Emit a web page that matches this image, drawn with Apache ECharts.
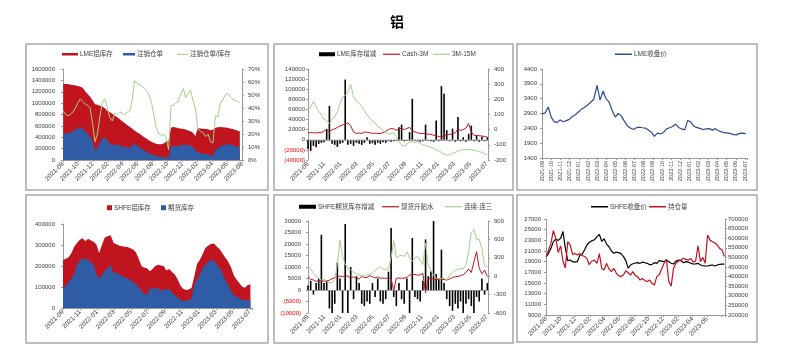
<!DOCTYPE html>
<html><head><meta charset="utf-8">
<script src="https://cdn.jsdelivr.net/npm/echarts@6/dist/echarts.min.js"></script>
<style>html,body{margin:0;padding:0;background:#fff}#c{width:793px;height:356px}</style>
</head><body><div id="c"></div>
<script>
// ---------- tick labels ----------
const p1Ticks = ['2021-08','2021-10','2021-12','2022-02','2022-04','2022-06','2022-08','2022-10','2022-12','2023-02','2023-04','2023-06','2023-08'];
const p2Ticks = ['2021-09','2021-11','2022-01','2022-03','2022-05','2022-07','2022-09','2022-11','2023-01','2023-03','2023-05','2023-07'];
const p3Ticks = ['2021-09','2021-10','2021-11','2021-12','2022-01','2022-02','2022-03','2022-04','2022-05','2022-06','2022-07','2022-08','2022-09','2022-10','2022-11','2022-12','2023-01','2023-02','2023-03','2023-04','2023-05','2023-06','2023-07'];
const p4Ticks = p2Ticks;
const p5Ticks = p2Ticks;
const p6Ticks = ['2021-08','2021-10','2021-12','2022-02','2022-04','2022-06','2022-08','2022-10','2022-12','2023-02','2023-04','2023-06'];

// ---------- sampling (every 10 days) ----------
const p1Start = '2021-08-02', p2Start = '2021-09-01', p3Start = '2021-09-01', p4Start = '2021-09-01', p5Start = '2021-09-01', p6Start = '2021-08-02';
const stepDays = 10;

// ---------- panel 1: LME stock (thousand t), cancelled warrants (thousand t), ratio (%) ----------
const p1LmeStockK = [1340,1338,1335,1325,1320,1310,1300,1290,1270,1210,
  1160,1110,1050,980,970,955,940,915,870,845,
  815,780,750,715,680,650,615,585,555,520,
  490,465,430,400,375,345,320,300,285,275,
  275,290,325,335,570,580,570,560,555,545,
  535,520,505,480,420,560,555,550,545,540,
  525,530,565,575,580,578,572,565,555,545,
  530,515,505];
const p1CancelK = [460,465,475,490,505,530,555,575,555,500,
  460,410,330,150,220,300,380,400,350,300,
  250,280,270,255,240,230,225,220,240,300,
  260,230,200,170,140,120,100,85,70,60,
  55,50,50,30,240,240,240,250,245,280,
  260,265,265,230,170,130,120,115,100,100,
  75,70,190,200,250,255,265,280,275,260,
  245,235,225];
const p1RatioPct = [38,35,34,35,37,40,44,47,45,43,
  42,40,28,14,20,33,44,47,41,33,
  30,36,35,37,36,35,37,37,45,61,
  59,58,57,55,53,50,44,34,25,20,
  19,20,17,8,42,42,44,45,51,55,
  48,51,54,46,40,24,22,21,18,20,
  14,13,34,33,44,46,50,51,49,47,
  46,45,44];

// ---------- panel 2: LME stock change (thousand t), Cash-3M, 3M-15M ----------
const p2ChangeK = [-18,-22,-12,-15,-8,-6,-5,20,67,-8,
  -10,-14,-8,-6,119,-10,-8,-12,-6,-8,
  -10,-6,5,-8,-7,-10,-6,-8,-5,-6,
  -3,-4,-3,-2,25,30,-3,-2,15,81,
  -2,-3,-4,-3,30,-2,-3,-4,38,-3,
  106,91,19,-3,22,-4,45,-3,5,-4,
  12,28,-3,8,-4,6,-3,5];
const p2Cash3M = [-20,-20,-20,-22,-18,-20,-10,5,-15,0,
  5,15,25,30,40,44,25,-15,-25,-22,
  -25,-15,-18,-20,-25,-22,-25,-25,-20,-10,
  0,8,5,-5,5,10,0,8,15,-5,
  -15,-20,-25,-25,-25,-30,-30,-37,-40,-45,
  -48,-45,-37,-30,-28,-20,5,-5,0,10,
  40,-15,-37,-38,-40,-42,-45,-48];
const p2Spread3M15M = [130,150,185,150,120,100,70,58,40,70,
  84,120,170,215,225,250,300,215,190,175,
  150,125,100,75,55,45,20,10,-5,-20,
  -30,-25,-20,-45,-80,-100,-110,-95,-80,-78,
  -85,-80,-90,-100,-105,-110,-115,-125,-135,-140,
  -150,-160,-168,-165,-155,-150,-140,-136,-132,-130,
  -130,-132,-136,-140,-145,-150,-160,-165];

// ---------- panel 3: LME close ----------
const p3LmeClose = [2880,2920,3120,2780,2620,2600,2680,2620,2660,2700,
  2800,2860,2950,3040,3100,3180,3270,3380,3850,3350,
  3650,3400,3280,3000,2780,2900,2820,2650,2490,2410,
  2360,2420,2440,2420,2410,2340,2270,2130,2240,2210,
  2260,2380,2420,2460,2540,2430,2380,2350,2660,2620,
  2480,2430,2400,2360,2380,2390,2340,2390,2320,2280,
  2250,2250,2220,2190,2180,2230,2240,2220];

// ---------- panel 4: SHFE stock, futures stock (thousand t) ----------
const p4ShfeStockK = [228,234,242,262,292,310,325,332,318,330,
  322,316,302,262,300,335,342,346,310,304,
  298,294,292,290,284,278,266,236,200,192,
  189,175,186,200,206,202,200,178,186,172,
  160,138,108,92,86,88,95,150,210,228,
  255,285,296,305,307,292,280,260,240,222,
  195,157,136,120,102,96,108,113];
const p4FuturesStockK = [94,106,125,140,160,205,226,236,234,228,
  218,205,160,142,158,175,190,205,165,172,
  160,152,148,140,134,124,114,100,82,68,
  62,98,90,96,95,80,92,86,92,72,
  62,52,38,34,36,36,45,110,135,157,
  190,205,220,228,226,205,192,165,135,110,
  84,62,55,48,40,38,38,38];

// ---------- panel 5: SHFE futures stock change (thousand t), spot basis, cont-3rd spread ----------
const p5ChangeK = [2,4,-2,3,5,24,3,4,-8,-10,
  -6,12,5,-10,28.7,-10,10,-4,6,3,
  -6,-7,-5,-6,3,-3,5,-5,-6,-4,
  8,27,-3,-7,3,-4,-6,5,-10,22.6,
  -3,-4,-5,4,22,6,8,30,7,5,
  17.5,3,-4,-7,-9,-6,-8,-5,-10,-6,
  -4,-7,-10,-3,-5,5,-2,3];
const p5SpotBasis = [-8,-50,-62,-85,-70,-62,-85,-78,-65,-40,
  -20,-8,3,-8,9,0,-35,-8,-30,-45,
  -5,-20,-24,9,-8,-30,-10,-35,-30,-35,
  -30,-40,-240,-35,-30,-35,-30,-20,19,25,
  30,15,25,46,-270,-40,-35,-45,-62,-40,
  -50,-55,-62,-45,-20,-8,-5,9,25,60,
  117,60,237,400,130,40,100,-8];
const p5ContSpread = [155,120,47,0,-40,-62,-45,-89,-110,-100,
  -60,200,590,320,200,128,110,63,40,20,
  9,3,15,30,60,95,128,155,117,101,
  110,300,580,300,330,340,320,400,300,240,
  300,320,264,190,540,182,100,19,-35,-45,
  -40,-35,-62,19,70,100,110,128,117,182,
  400,720,760,600,600,450,170,155];

// ---------- panel 6: SHFE close, open interest (thousand lots) ----------
const p6ShfeClose = [19940,20560,21500,22750,23200,23000,23400,24650,21500,19200,
  19310,19000,18900,19000,20200,20400,21200,22125,22600,22900,
  23100,23690,24100,22800,23300,22300,21800,21000,20560,20800,
  20700,20500,20000,19200,17800,18375,18600,18750,18810,18690,
  18900,18800,18690,18400,18500,18810,18690,19200,19100,19000,
  19300,19000,18700,18560,19100,19300,19190,18810,19000,18900,
  18690,18560,18600,18690,18375,18250,18190,18190,18300,18375,
  18190,18375,18500,18550,18550];
const p6OpenInterestK = [504,540,573,640,600,525,560,480,445,582,
  565,515,521,512,521,510,505,495,462,480,
  486,469,520,443,434,469,440,426,443,420,
  405,400,408,430,420,408,426,405,400,382,
  390,380,374,382,365,356,400,410,440,470,
  490,374,350,443,469,480,486,495,490,486,
  495,475,480,560,478,500,470,617,590,582,
  575,565,547,540,505];

// ---------- helpers ----------
function makeDates(start, step, n) {
  const t0 = Date.parse(start + 'T00:00:00Z'), out = [];
  for (let i = 0; i < n; i++) out.push(new Date(t0 + i * step * 86400000).toISOString().slice(0, 10));
  return out;
}
function monthPos(dateStr, baseLabel) {
  const b = baseLabel.split('-').map(Number), d = dateStr.split('-').map(Number);
  const dim = new Date(Date.UTC(d[0], d[1], 0)).getUTCDate();
  return (d[0] - b[0]) * 12 + (d[1] - b[1]) + (d[2] - 1) / dim;
}
function series(start, base, vals, unit) {
  const dates = makeDates(start, stepDays, vals.length);
  return vals.map((v, i) => [monthPos(dates[i], base), v * (unit || 1)]);
}
function tickFmt(ticks, step) {
  return v => { const k = v / step, r = Math.round(k); return (Math.abs(k - r) < 1e-6 && ticks[r]) ? ticks[r] : ''; };
}
const FONT = '"Liberation Sans", Arial, "Noto Sans CJK SC", sans-serif';
const AXC = '#9a9a9a', LBL = '#404040';
const RED = '#c0141e', BLUE = '#2e5da5', GREEN = '#a3d08a', NAVY = '#2c4b8d';
const plainFmt = v => String(Math.round(v));
const negFmt = v => v < 0 ? '{n|(' + (-v) + ')}' : String(v);

function xAx(gi, ticks, step, max, rotate, fs, showLine) {
  return { type: 'value', gridIndex: gi, min: 0, max: max, interval: step,
    splitLine: { show: false },
    axisLine: { show: showLine, onZero: false, lineStyle: { color: AXC, width: 1 } },
    axisTick: { show: showLine, length: 2, lineStyle: { color: AXC } },
    axisLabel: { rotate: rotate, fontSize: fs, color: LBL, fontFamily: FONT, margin: 3, hideOverlap: false,
      formatter: tickFmt(ticks, step) } };
}
function yAx(gi, min, max, step, pos, fmt, margin) {
  return { type: 'value', gridIndex: gi, min: min, max: max, interval: step, position: pos,
    splitLine: { show: false },
    axisLine: { show: true, onZero: false, lineStyle: { color: AXC, width: 1 } },
    axisTick: { show: true, length: 2, lineStyle: { color: AXC } },
    axisLabel: { fontSize: 6, color: LBL, fontFamily: FONT, margin: margin, hideOverlap: false, formatter: fmt,
      rich: { n: { color: '#ff0000', fontSize: 6, fontFamily: FONT } } } };
}
function lineS(name, xi, yi, data, color, width) {
  return { name: name, type: 'line', xAxisIndex: xi, yAxisIndex: yi, data: data, symbol: 'none', showSymbol: false,
    lineStyle: { color: color, width: width }, itemStyle: { color: color }, silent: true, animation: false };
}
function areaS(name, xi, yi, data, color) {
  return { name: name, type: 'line', xAxisIndex: xi, yAxisIndex: yi, data: data, symbol: 'none', showSymbol: false,
    lineStyle: { width: 0, color: color }, areaStyle: { color: color, opacity: 1 }, itemStyle: { color: color },
    silent: true, animation: false };
}
function barS(name, xi, yi, data) {
  return { name: name, type: 'bar', xAxisIndex: xi, yAxisIndex: yi, data: data, barWidth: 1.6,
    itemStyle: { color: '#000' }, silent: true, animation: false,
    markLine: { silent: true, symbol: 'none', animation: false, label: { show: false },
      lineStyle: { color: '#8c8c8c', width: 0.8, type: 'solid' }, data: [{ yAxis: 0 }] } };
}
// one legend per item so each icon can have its own size
function leg(left, top, name, w, h) {
  return { left: left, top: top, padding: 0, itemWidth: w, itemHeight: h, selectedMode: false,
    textStyle: { fontSize: 6.5, color: LBL, fontFamily: FONT, padding: [0, 0, 0, -3] },
    data: [{ name: name, icon: 'rect' }] };
}

// ---------- layout (pixels) ----------
const panels = [[26,44,268,190],[274,44,513,190],[517,44,757,190],[26,195,268,343],[274,195,513,343],[517,195,757,342]];
const grids = [
  { left: 63, top: 69, width: 179, height: 91 },
  { left: 308, top: 69, width: 180, height: 91 },
  { left: 542, top: 69, width: 205, height: 89 },
  { left: 63, top: 224, width: 189, height: 84 },
  { left: 308, top: 221, width: 180, height: 92 },
  { left: 546, top: 219, width: 179, height: 96 }
].map(g => Object.assign({ containLabel: false, outerBoundsMode: 'none' }, g));

const option = {
  animation: false,
  backgroundColor: '#fff',
  title: { text: '铝', left: 385, top: 11, textStyle: { fontSize: 14, fontWeight: 'bold', color: '#000', fontFamily: FONT } },
  graphic: panels.map(p => ({ type: 'rect', silent: true, z: -10,
    shape: { x: p[0], y: p[1], width: p[2] - p[0], height: p[3] - p[1] },
    style: { fill: 'none', stroke: '#a8a8a8', lineWidth: 1.5 } })),
  grid: grids,
  legend: [
    leg(62, 51, 'LME铝库存', 16, 2.5),
    leg(123, 51, '注销仓单', 12, 2.5),
    leg(177, 51, '注销仓单/库存', 11, 1),
    leg(319, 51, 'LME库存增减', 16, 4),
    leg(383, 51, 'Cash-3M', 17, 1.2),
    leg(433, 51, '3M-15M', 17, 1.2),
    leg(615, 51, 'LME收盘价', 17, 1.5),
    leg(107, 204.5, 'SHFE铝库存', 5, 5),
    leg(161, 204.5, '期货库存', 5, 5),
    leg(299, 203.5, 'SHFE期货库存增减', 17, 4),
    leg(382, 203.5, '现货升贴水', 17, 1.2),
    leg(445, 203.5, '连续-连三', 17, 1.2),
    leg(591, 203.5, 'SHFE收盘价', 17, 1.5),
    leg(649, 203.5, '持仓量', 17, 1.5)
  ],
  xAxis: [
    xAx(0, p1Ticks, 2, 24, 45, 6.5, true),
    xAx(1, p2Ticks, 2, 22.15, 45, 6.5, false),
    xAx(2, p3Ticks, 1, 22.2, 90, 5.5, true),
    xAx(3, p4Ticks, 2, 22.25, 45, 6.5, true),
    xAx(4, p5Ticks, 2, 22.15, 45, 6.5, false),
    xAx(5, p6Ticks, 2, 24.45, 45, 6.5, true)
  ],
  yAxis: [
    yAx(0, 0, 1600000, 200000, 'left', plainFmt, 8),
    yAx(0, 0, 0.7, 0.1, 'right', v => Math.round(v * 100) + '%', 6),
    yAx(1, -40000, 140000, 20000, 'left', negFmt, 3),
    yAx(1, -200, 400, 100, 'right', plainFmt, 6),
    yAx(2, 1400, 4400, 500, 'left', plainFmt, 5),
    yAx(3, 0, 400000, 100000, 'left', plainFmt, 8),
    yAx(4, -10000, 30000, 5000, 'left', negFmt, 7),
    yAx(4, -600, 900, 300, 'right', plainFmt, 6),
    yAx(5, 9000, 27000, 2000, 'left', plainFmt, 5),
    yAx(5, 200000, 700000, 50000, 'right', plainFmt, 3)
  ],
  series: [
    areaS('LME铝库存', 0, 0, series(p1Start, p1Ticks[0], p1LmeStockK, 1000), RED),
    areaS('注销仓单', 0, 0, series(p1Start, p1Ticks[0], p1CancelK, 1000), BLUE),
    lineS('注销仓单/库存', 0, 1, series(p1Start, p1Ticks[0], p1RatioPct, 0.01), GREEN, 1),

    barS('LME库存增减', 1, 2, series(p2Start, p2Ticks[0], p2ChangeK, 1000)),
    lineS('Cash-3M', 1, 3, series(p2Start, p2Ticks[0], p2Cash3M), RED, 1),
    lineS('3M-15M', 1, 3, series(p2Start, p2Ticks[0], p2Spread3M15M), GREEN, 1),

    lineS('LME收盘价', 2, 4, series(p3Start, p3Ticks[0], p3LmeClose), NAVY, 1.2),

    areaS('SHFE铝库存', 3, 5, series(p4Start, p4Ticks[0], p4ShfeStockK, 1000), RED),
    areaS('期货库存', 3, 5, series(p4Start, p4Ticks[0], p4FuturesStockK, 1000), BLUE),

    barS('SHFE期货库存增减', 4, 6, series(p5Start, p5Ticks[0], p5ChangeK, 1000)),
    lineS('现货升贴水', 4, 7, series(p5Start, p5Ticks[0], p5SpotBasis), RED, 1),
    lineS('连续-连三', 4, 7, series(p5Start, p5Ticks[0], p5ContSpread), GREEN, 1),

    lineS('SHFE收盘价', 5, 8, series(p6Start, p6Ticks[0], p6ShfeClose), '#000', 1.2),
    lineS('持仓量', 5, 9, series(p6Start, p6Ticks[0], p6OpenInterestK, 1000), RED, 1.2)
  ]
};
const chart = echarts.init(document.getElementById('c'), null, { renderer: 'canvas' });
chart.setOption(option);
</script></body></html>
